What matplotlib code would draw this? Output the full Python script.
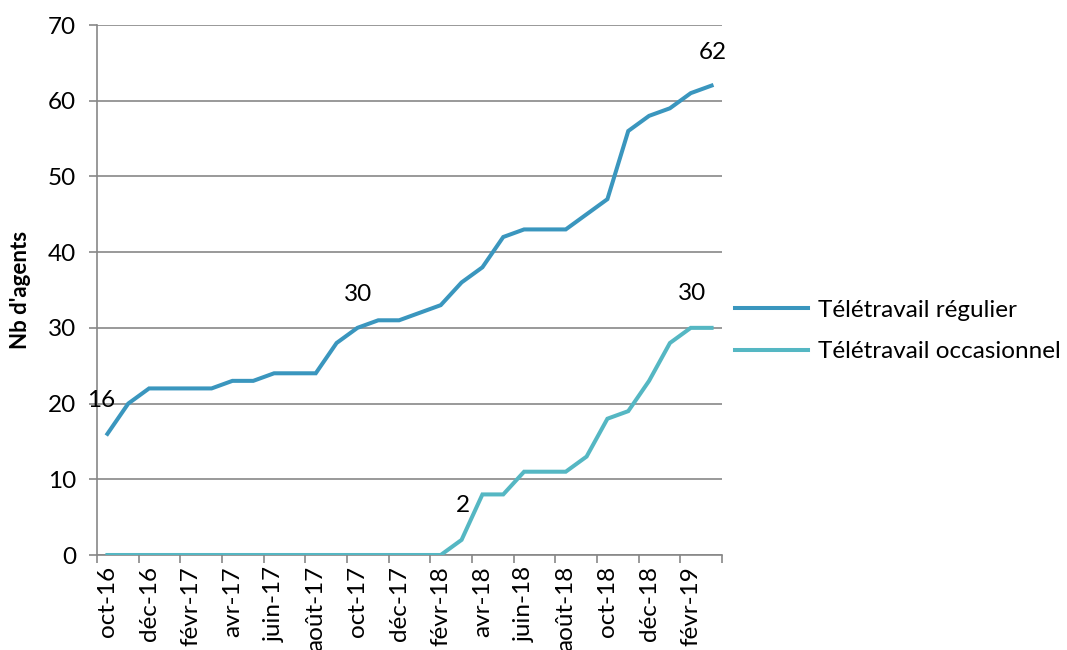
import matplotlib
matplotlib.use("Agg")
import matplotlib.pyplot as plt

months = ["oct-16", "nov-16", "déc-16", "janv-17", "févr-17", "mars-17", "avr-17", "mai-17",
          "juin-17", "juil-17", "août-17", "sept-17", "oct-17", "nov-17", "déc-17", "janv-18",
          "févr-18", "mars-18", "avr-18", "mai-18", "juin-18", "juil-18", "août-18", "sept-18",
          "oct-18", "nov-18", "déc-18", "janv-19", "févr-19", "mars-19"]
regulier = [16, 20, 22, 22, 22, 22, 23, 23, 24, 24, 24, 28, 30, 31, 31, 32, 33, 36, 38, 42,
            43, 43, 43, 45, 47, 56, 58, 59, 61, 62]
occasionnel = [0, 0, 0, 0, 0, 0, 0, 0, 0, 0, 0, 0, 0, 0, 0, 0, 0, 2, 8, 8,
               11, 11, 11, 13, 18, 19, 23, 28, 30, 30]
labelled_regulier = [0, 12, 29]
labelled_occasionnel = [17, 28]

plt.rcParams["font.family"] = ["Lato", "DejaVu Sans"]

fig = plt.figure(figsize=(10.67, 6.5), dpi=100)
ax = fig.add_axes([97 / 1067, 1 - 555 / 650, (722 - 97) / 1067, (555 - 25) / 650])

c_reg = "#3A96BE"
c_occ = "#55B7C3"
grid_c = "#878787"
fs = 17.5

x = list(range(len(months)))
ax.plot(x, regulier, color=c_reg, lw=2.9, label="Télétravail régulier", solid_joinstyle="miter", zorder=3)
ax.plot(x, occasionnel, color=c_occ, lw=2.9, label="Télétravail occasionnel", solid_joinstyle="miter", zorder=3)

for i in labelled_regulier:
    ax.annotate(str(regulier[i]), (x[i], regulier[i]), xytext=(-6 if i == 0 else 1, 33),
                textcoords="offset pixels", ha="center", va="center", fontsize=fs, color="black")
for i in labelled_occasionnel:
    ax.annotate(str(occasionnel[i]), (x[i], occasionnel[i]), xytext=(1, 34),
                textcoords="offset pixels", ha="center", va="center", fontsize=fs, color="black")

ax.set_xlim(-0.5, len(months) - 0.5)
ax.set_ylim(0, 70)
ax.set_yticks(range(0, 71, 10))
ax.yaxis.grid(True, color=grid_c, lw=1.2)
ax.set_axisbelow(True)

# labelled months every two categories, tick marks on category boundaries
ax.set_xticks(x[::2])
ax.set_xticklabels(months[::2], rotation=90, fontsize=fs)
ax.set_xticks([p - 0.5 for p in x[::2]] + [len(months) - 0.5], minor=True)
ax.tick_params(axis="x", which="major", length=0, pad=8)
ax.tick_params(axis="x", which="minor", length=6, color=grid_c, width=1.2, direction="out")
ax.tick_params(axis="y", length=6, color=grid_c, width=1.2, labelsize=fs, pad=9)

for s in ["top", "right"]:
    ax.spines[s].set_visible(False)
for s in ["left", "bottom"]:
    ax.spines[s].set_color(grid_c)
    ax.spines[s].set_linewidth(1.2)

ax.set_ylabel("Nb d'agents", fontsize=16, fontweight="bold", labelpad=12)

ax.legend(loc="center left", bbox_to_anchor=(735 / 1067, 1 - 331 / 650), bbox_transform=fig.transFigure,
          frameon=False, fontsize=fs, handlelength=3.0, labelspacing=0.85, handletextpad=0.4,
          borderpad=0, borderaxespad=0)

fig.savefig("out.png", dpi=100)
